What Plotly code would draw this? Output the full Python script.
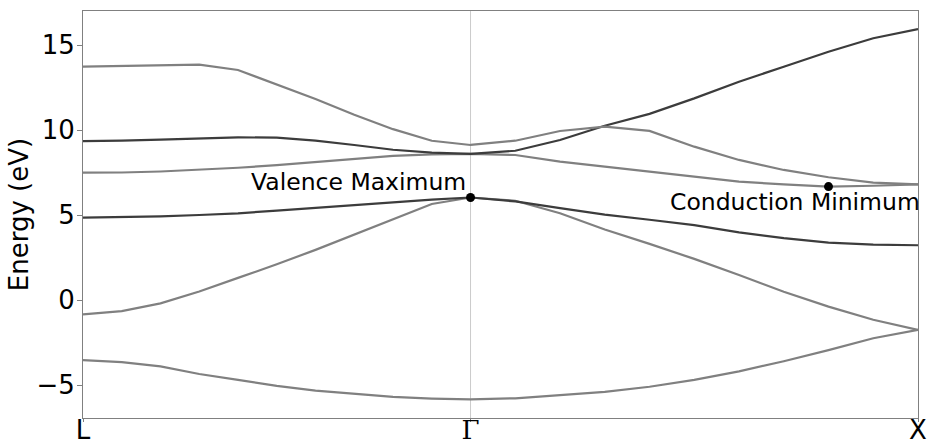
import numpy as np
import plotly.graph_objects as go

# High-symmetry path
sym_labels = ["L", "Γ", "X"]
sym_pos = [0.0, 0.866, 1.866]
n_per_seg = 11
k = np.concatenate([np.linspace(sym_pos[0], sym_pos[1], n_per_seg),
                    np.linspace(sym_pos[1], sym_pos[2], n_per_seg)[1:]])

# Band energies (eV) along L -> Gamma -> X
band1 = [-3.53, -3.65, -3.9, -4.35, -4.7, -5.05, -5.33, -5.5, -5.7, -5.8, -5.85,
         -5.78, -5.6, -5.4, -5.1, -4.7, -4.2, -3.6, -2.95, -2.25, -1.76]
band2 = [-0.85, -0.65, -0.2, 0.5, 1.3, 2.1, 2.95, 3.85, 4.75, 5.65, 6.03,
         5.84, 5.1, 4.15, 3.3, 2.42, 1.47, 0.49, -0.39, -1.16, -1.76]
band3 = [4.85, 4.87, 4.92, 5.0, 5.1, 5.26, 5.43, 5.6, 5.77, 5.9, 6.03,
         5.8, 5.4, 5.02, 4.72, 4.4, 3.98, 3.64, 3.38, 3.26, 3.22]
band4 = [7.49, 7.5, 7.56, 7.65, 7.78, 7.93, 8.1, 8.3, 8.48, 8.57, 8.6,
         8.53, 8.14, 7.85, 7.55, 7.22, 6.96, 6.8, 6.67, 6.72, 6.8]
band5 = [9.35, 9.37, 9.44, 9.51, 9.57, 9.55, 9.38, 9.12, 8.84, 8.67, 8.6,
         8.78, 9.41, 10.25, 10.95, 11.86, 12.84, 13.72, 14.6, 15.4, 15.94]
band6 = [13.73, 13.76, 13.82, 13.85, 13.53, 12.69, 11.82, 10.9, 10.05, 9.37, 9.12,
         9.37, 9.94, 10.2, 9.95, 9.02, 8.24, 7.65, 7.22, 6.9, 6.8]

bands = [band1, band2, band3, band4, band5, band6]
band_colors = ["#808080", "#808080", "#3c3c3c", "#808080", "#3c3c3c", "#808080"]

# Marked extrema (index into k)
vbm_index = 10
vbm_band = band3
cbm_index = 18
cbm_band = band4

FONT = "DejaVu Sans"
FS_ANN = 23.5
FS_TICK = 26
FS_TITLE = 26

fig = go.Figure()
for b, c in zip(bands, band_colors):
    fig.add_trace(go.Scatter(x=k, y=b, mode="lines",
                             line=dict(color=c, width=2.2),
                             showlegend=False, hoverinfo="skip"))

fig.add_trace(go.Scatter(x=[k[vbm_index], k[cbm_index]],
                         y=[vbm_band[vbm_index], cbm_band[cbm_index]],
                         mode="markers", marker=dict(color="black", size=9),
                         showlegend=False, hoverinfo="skip"))

fig.add_shape(type="line", xref="x", yref="paper",
              x0=sym_pos[1], x1=sym_pos[1], y0=0, y1=1,
              line=dict(color="#cccccc", width=1), layer="below")

fig.add_annotation(x=k[vbm_index], y=vbm_band[vbm_index], text="Valence Maximum",
                   showarrow=False, xanchor="right", yanchor="bottom",
                   xshift=-3, yshift=0,
                   font=dict(family=FONT, size=FS_ANN, color="black"))
fig.add_annotation(x=k[cbm_index], y=cbm_band[cbm_index], text="Conduction Minimum",
                   showarrow=False, xanchor="center", yanchor="top",
                   xshift=-34, yshift=1,
                   font=dict(family=FONT, size=FS_ANN, color="black"))

tick_text = [sym_labels[0],
             "<span style='font-family:DejaVu Serif'>" + sym_labels[1] + "</span>",
             sym_labels[2]]

fig.update_layout(
    width=930, height=443,
    margin=dict(l=83, r=12, t=11, b=25),
    paper_bgcolor="white", plot_bgcolor="white",
    font=dict(family=FONT, size=FS_TICK, color="black"),
    xaxis=dict(range=[sym_pos[0], sym_pos[-1]], tickvals=sym_pos, ticktext=tick_text,
               showgrid=False, zeroline=False, showline=True, mirror=True,
               linecolor="#808080", linewidth=1, ticks="outside", ticklen=3,
               tickcolor="#808080", tickfont=dict(size=FS_TICK), automargin=False,
               ticklabelstandoff=-14),
    yaxis=dict(range=[-6.94, 17.0], tickvals=[-5, 0, 5, 10, 15],
               showgrid=False, zeroline=False, showline=True, mirror=True,
               linecolor="#808080", linewidth=1, ticks="outside", ticklen=5,
               tickcolor="#808080", tickfont=dict(size=FS_TICK), automargin=False,
               ticklabelstandoff=-3,
               title=dict(text="Energy (eV)", font=dict(size=FS_TITLE), standoff=0)),
)

fig.write_html("out.html")
